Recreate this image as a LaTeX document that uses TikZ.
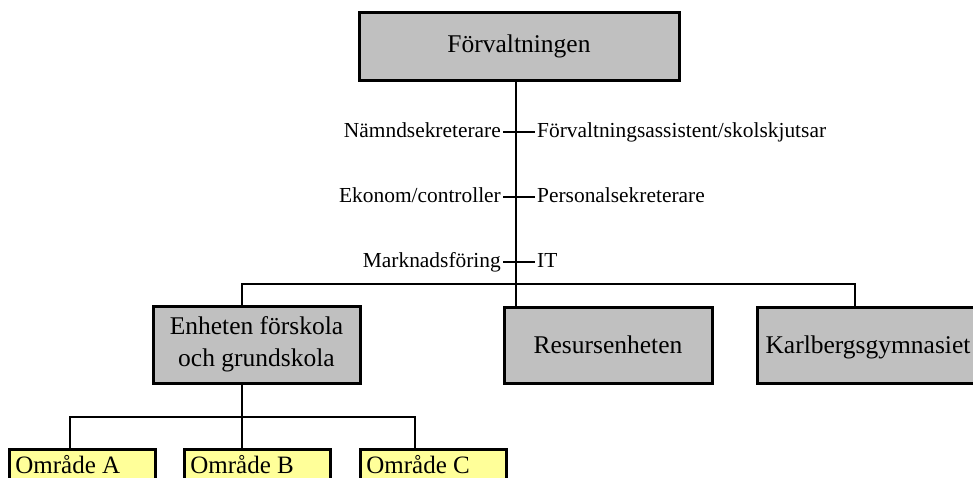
\documentclass[tikz,border=0pt]{standalone}
\usepackage{fontspec}
\setmainfont{Liberation Serif}
\definecolor{boxgrey}{HTML}{C0C0C0}
\definecolor{areayellow}{HTML}{FFFF99}
\tikzset{
  unitbox/.style={draw=black, line width=3pt, fill=boxgrey, align=center,
    font=\fontsize{25.5}{32}\selectfont},
  areabox/.style={draw=black, line width=2.8pt, fill=areayellow, anchor=north west,
    text width=134pt, inner xsep=6pt, inner ysep=6pt, align=flush left,
    font=\fontsize{25}{30}\selectfont},
  staff/.style={inner sep=2pt, font=\fontsize{21.4}{26}\selectfont},
  link/.style={line width=1.3pt}
}
\begin{document}
\begin{tikzpicture}[x=1pt,y=-1pt]
    \useasboundingbox (0,0) rectangle (973,477);
    \clip (0,0) rectangle (973,477);

    \node[unitbox, minimum width=320pt, minimum height=68pt] (forv) at (519,46) {Förvaltningen};

    % stab
    \foreach \y/\l/\r/\n in {137/Nämndsekreterare/{Förvaltningsassistent/skolskjutsar}/a,
                             202/{Ekonom/controller}/Personalsekreterare/b,
                             267/Marknadsföring/IT/c} {
        \node[staff, anchor=base east] (l\n) at (503,\y) {\l};
        \node[staff, anchor=base west] (r\n) at (535,\y) {\r};
        \draw[link] ([yshift=5pt]l\n.base east) -- ([yshift=5pt]r\n.base west);
    }

    \node[unitbox, minimum width=207pt, minimum height=77pt] (enh) at (256.5,344.5) {Enheten förskola\\och grundskola};
    \node[unitbox, minimum width=208pt, minimum height=76pt] (res) at (608,345) {Resursenheten};
    \node[unitbox, minimum width=222pt, minimum height=76pt, text depth=0pt] (kar) at (868,345) {Karlbergsgymnasiet};

    \node[areabox] (omrA) at (8,448) {Område A};
    \node[areabox] (omrB) at (183,448) {Område B};
    \node[areabox] (omrC) at (359,448) {Område C};

    \coordinate (trunk) at (516,284);
    \coordinate (busL) at (242,284);
    \coordinate (busR) at (855,284);
    \draw[link] (forv.south -| trunk) -- (res.north -| trunk);
    \draw[link] (enh.north -| busL) |- (busR) -- (kar.north -| busR);

    \coordinate (subL) at (70,417);
    \coordinate (subM) at (242,417);
    \coordinate (subR) at (415,417);
    \draw[link] (enh.south -| subM) -- (omrB.north -| subM);
    \draw[link] (omrA.north -| subL) |- (subR) -- (omrC.north -| subR);
\end{tikzpicture}
\end{document}
